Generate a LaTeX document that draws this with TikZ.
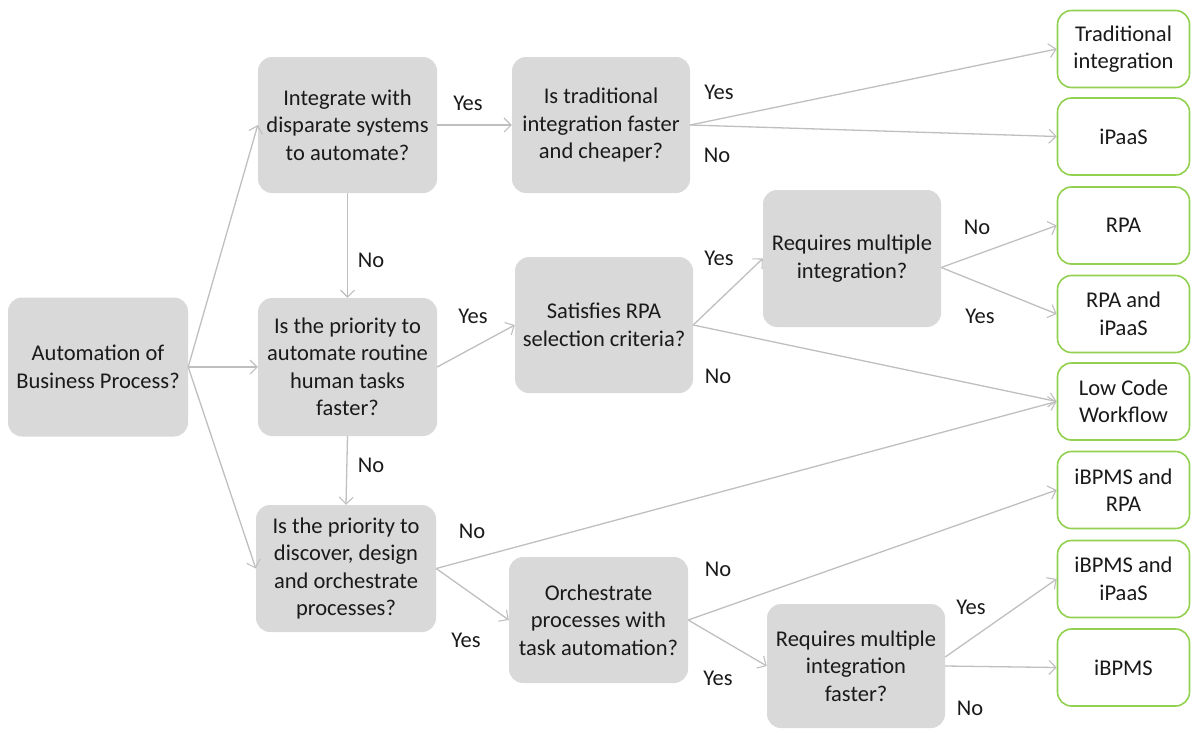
\documentclass[tikz,border=0pt]{standalone}
\usepackage{fontspec}
\setmainfont{Carlito}
\usetikzlibrary{arrows.meta}
\definecolor{boxgray}{HTML}{D9D9D9}
\definecolor{linegray}{HTML}{BFBFBF}
\definecolor{outgreen}{HTML}{92D050}
\definecolor{txt}{HTML}{1A1A1A}
\tikzset{
  qbox/.style={rectangle, rounded corners=14pt, fill=boxgray, draw=none,
    minimum width=179pt, inner sep=0pt, align=center, text=txt,
    font=\fontsize{22.5}{27.5}\selectfont},
  obox/.style={rectangle, rounded corners=14pt, fill=white, draw=outgreen,
    line width=1.6pt, minimum width=132pt, minimum height=77pt, inner sep=0pt,
    align=center, text=txt, font=\fontsize{22.5}{27.5}\selectfont},
  conn/.style={draw=linegray, line width=1.3pt,
    -{Straight Barb[length=7pt,width=14pt,line width=1.1pt]}},
  lbl/.style={text=txt, font=\fontsize{22.5}{27.5}\selectfont, inner sep=0pt}
}
\begin{document}
\begin{tikzpicture}[x=1pt,y=-1pt]
\useasboundingbox (0,0) rectangle (1192,729);
% question boxes
\node[qbox, minimum width=180pt, minimum height=139pt] (A) at (98,367) {Automation of\\Business Process?};
\node[qbox, minimum height=136pt] (B) at (347.5,125) {Integrate with\\disparate systems\\to automate?};
\node[qbox, minimum height=138pt] (C) at (347.5,367) {Is the priority to\\automate routine\\human tasks\\faster?};
\node[qbox, minimum width=180pt, minimum height=127pt] (D) at (346,568.5) {Is the priority to\\discover, design\\and orchestrate\\processes?};
\node[qbox, minimum width=178pt, minimum height=136pt] (E) at (601,125) {Is traditional\\integration faster\\and cheaper?};
\node[qbox, minimum width=178pt, minimum height=136pt] (F) at (604,325) {Satisfies RPA\\selection criteria?};
\node[qbox, minimum width=178pt, minimum height=137pt] (G) at (852,258.5) {Requires multiple\\integration?};
\node[qbox, minimum width=179pt, minimum height=126pt] (H) at (598.5,620) {Orchestrate\\processes with\\task automation?};
\node[qbox, minimum width=178pt, minimum height=124pt] (I) at (856,666) {Requires multiple\\integration\\faster?};
% outcome boxes
\node[obox] (O1) at (1123.5,49) {Traditional\\integration};
\node[obox] (O2) at (1123.5,136.5) {iPaaS};
\node[obox] (O3) at (1123.5,225.5) {RPA};
\node[obox] (O4) at (1123.5,314) {RPA and\\iPaaS};
\node[obox] (O5) at (1123.5,401.5) {Low Code\\Workflow};
\node[obox] (O6) at (1123.5,490) {iBPMS and\\RPA};
\node[obox] (O7) at (1123.5,579) {iBPMS and\\iPaaS};
\node[obox] (O8) at (1123.5,667.5) {iBPMS};
% connectors
\draw[conn] (A.east) -- (B.west);
\draw[conn] (A.east) -- (C.west);
\draw[conn] (A.east) -- (D.west);
\draw[conn] (B.east) -- (E.west);
\draw[conn] (B.south) -- (C.north);
\draw[conn] (C.south) -- (D.north);
\draw[conn] (E.east) -- (O1.west);
\draw[conn] (E.east) -- (O2.west);
\draw[conn] (C.east) -- (F.west);
\draw[conn] (F.east) -- (G.west);
\draw[conn] (F.east) -- (O5.west);
\draw[conn] ([yshift=-9pt]G.east) -- (O3.west);
\draw[conn] ([yshift=-9pt]G.east) -- (O4.west);
\draw[conn] (D.east) -- (O5.west);
\draw[conn] (D.east) -- (H.west);
\draw[conn] (H.east) -- (O6.west);
\draw[conn] (H.east) -- (I.west);
\draw[conn] ([yshift=9pt]I.east) -- (O7.west);
\draw[conn] (I.east) -- (O8.west);
% labels
\node[lbl] (l1) at (468,103) {Yes};
\node[lbl] (l2) at (371,260) {No};
\node[lbl] (l3) at (371,465) {No};
\node[lbl] (l4) at (719,92) {Yes};
\node[lbl] (l5) at (717,155) {No};
\node[lbl] (l6) at (473,316) {Yes};
\node[lbl] (l7) at (719,258) {Yes};
\node[lbl] (l8) at (718,376) {No};
\node[lbl] (l9) at (977,227) {No};
\node[lbl] (l10) at (980,316) {Yes};
\node[lbl] (l11) at (472,531) {No};
\node[lbl] (l12) at (466,640) {Yes};
\node[lbl] (l13) at (718,569) {No};
\node[lbl] (l14) at (718,678) {Yes};
\node[lbl] (l15) at (971,607) {Yes};
\node[lbl] (l16) at (970,708) {No};
\end{tikzpicture}
\end{document}
